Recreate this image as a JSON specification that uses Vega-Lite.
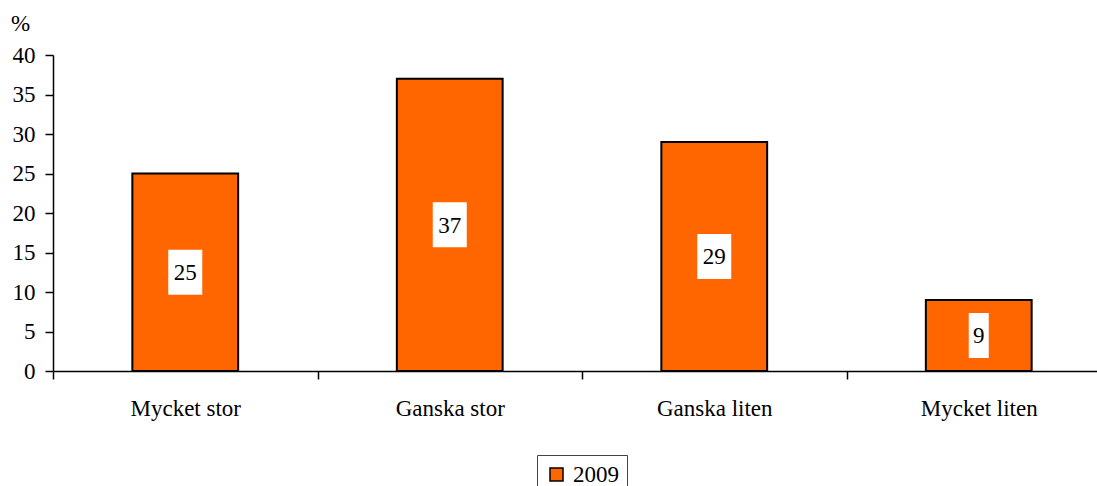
{
  "$schema": "https://vega.github.io/schema/vega-lite/v6.json",
  "autosize": {"type": "none"},
  "padding": {"left": 53, "top": 55, "right": 0, "bottom": 115},
  "width": 1044,
  "height": 316,
  "background": "white",
  "config": {
    "font": "Liberation Serif",
    "view": {"stroke": null},
    "axis": {"labelFont": "Liberation Serif", "titleFont": "Liberation Serif", "labelColor": "black", "titleColor": "black", "domainColor": "black", "tickColor": "black", "grid": false, "labelFontSize": 23, "titleFontSize": 23, "tickSize": 8, "domainWidth": 1.5, "tickWidth": 1.5}
  },
  "data": {"values": [
    {"category": "Mycket stor", "value": 25},
    {"category": "Ganska stor", "value": 37},
    {"category": "Ganska liten", "value": 29},
    {"category": "Mycket liten", "value": 9}
  ]},
  "encoding": {
    "x": {
      "field": "category", "type": "nominal", "sort": null,
      "scale": {"range": [0, 1058], "paddingInner": 0, "paddingOuter": 0},
      "axis": {"title": null, "labelAngle": 0, "tickBand": "extent", "labelPadding": 18, "labelFontSize": 23}
    }
  },
  "resolve": {"axis": {"y": "independent"}},
  "layer": [
    {
      "mark": {"type": "bar", "stroke": "black", "strokeWidth": 2, "width": {"band": 0.4}},
      "encoding": {
        "y": {
          "field": "value", "type": "quantitative",
          "scale": {"domain": [0, 40], "nice": false},
          "axis": {"values": [0, 5, 10, 15, 20, 25, 30, 35, 40], "labelPadding": 10,
            "title": "%", "titleAngle": 0, "titleX": -33, "titleY": -25, "titleAlign": "center", "titleBaseline": "alphabetic", "titleFontWeight": "normal"}
        },
        "color": {
          "datum": "2009",
          "scale": {"range": ["#FF6600"]},
          "legend": {"title": null, "orient": "none", "legendX": 484, "legendY": 400, "strokeColor": "#444", "fillColor": "white", "padding": 8, "symbolType": "square", "symbolSize": 169, "symbolStrokeColor": "black", "symbolStrokeWidth": 1.5, "labelFontSize": 23, "labelFont": "Liberation Serif", "labelColor": "black", "labelOffset": 5, "cornerRadius": 0}
        }
      }
    },
    {
      "transform": [{"calculate": "datum.value / 2", "as": "mid"}],
      "mark": {"type": "point", "filled": true, "fill": "white", "opacity": 1, "strokeWidth": 0},
      "encoding": {
        "y": {"field": "mid", "type": "quantitative", "axis": null},
        "shape": {"condition": {"test": "datum.value < 10", "value": "M-1,-2.25H1V2.25H-1Z"}, "value": "M-1,-1.324H1V1.324H-1Z"},
        "size": {"condition": {"test": "datum.value < 10", "value": 400}, "value": 1156}
      }
    },
    {
      "transform": [{"calculate": "datum.value / 2", "as": "mid"}],
      "mark": {"type": "text", "fontSize": 23, "font": "Liberation Serif", "color": "black", "baseline": "middle", "dy": 1},
      "encoding": {
        "y": {"field": "mid", "type": "quantitative", "axis": null},
        "text": {"field": "value", "type": "quantitative"}
      }
    }
  ]
}
